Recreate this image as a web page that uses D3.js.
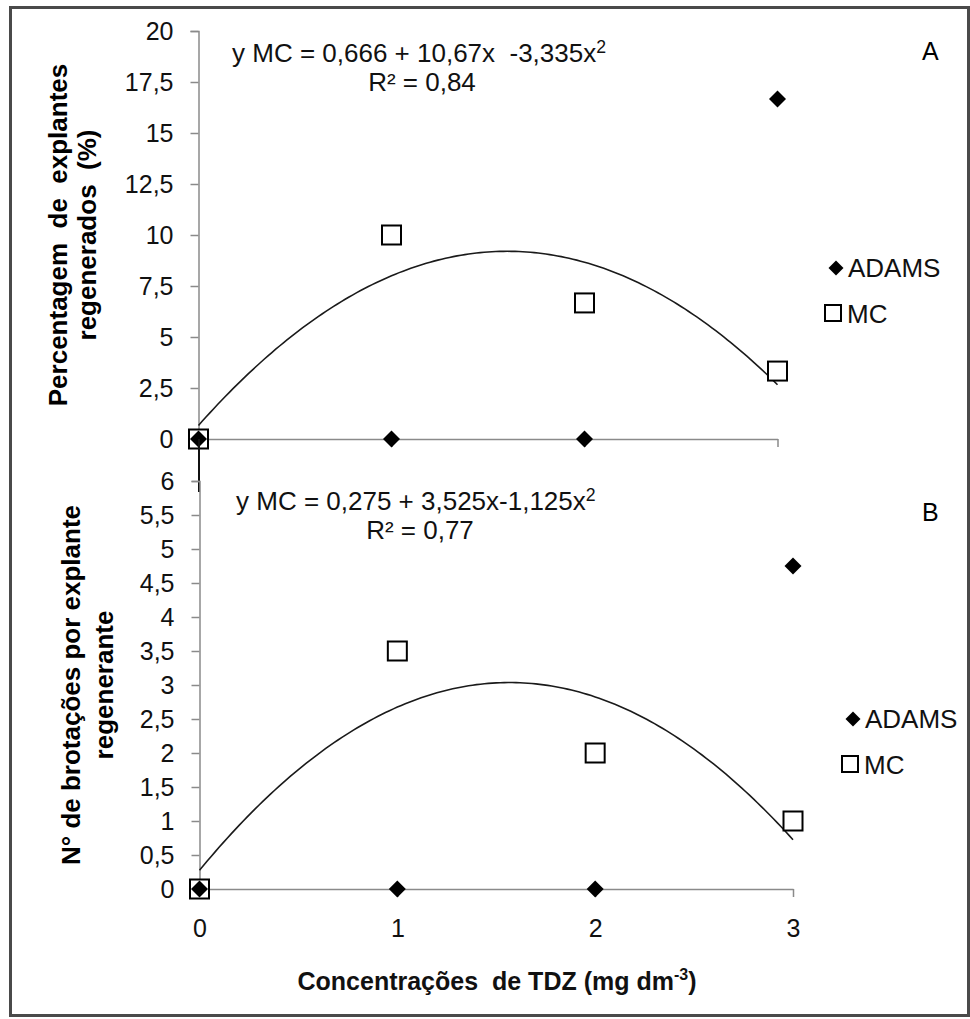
<!DOCTYPE html>
<html><head><meta charset="utf-8">
<script src="https://cdn.jsdelivr.net/npm/d3@7"></script>
<style>
html,body{margin:0;padding:0;background:#fff;}
svg{display:block;font-family:"Liberation Sans",Arial,sans-serif;}
text{white-space:pre;}
</style></head>
<body>
<svg id="chart" width="970" height="1019"></svg>
<script>
// ---- data ----
const concentrations = [0, 1, 2, 3];
const adamsPct = [0, 0, 0, 16.67];
const mcPct = [0, 10, 6.67, 3.33];
const adamsShoots = [0, 0, 0, 4.75];
const mcShoots = [0, 3.5, 2, 1];
const fitPctCoef = [0.666, 10.67, -3.335];
const fitShootCoef = [0.275, 3.525, -1.125];
const ticksPct = [0, 2.5, 5, 7.5, 10, 12.5, 15, 17.5, 20];
const ticksShoots = [0, 0.5, 1, 1.5, 2, 2.5, 3, 3.5, 4, 4.5, 5, 5.5, 6];
const xTicks = [0, 1, 2, 3];
const seriesNames = ["ADAMS", "MC"];

const svg = d3.select("#chart");
const fmt = v => String(v).replace(".", ",");
const axisColor = "#8a8a8a";

// outer frame
svg.append("rect").attr("x", 10.5).attr("y", 7.5).attr("width", 958).attr("height", 1008)
  .attr("fill", "none").attr("stroke", "#4a4a4a").attr("stroke-width", 3);

function panel(cfg) {
  const x = d3.scaleLinear().domain([0, 3]).range(cfg.xr);
  const y = d3.scaleLinear().domain(cfg.yd).range(cfg.yr);
  const g = svg.append("g");
  // y axis
  const ya = d3.axisLeft(y).tickValues(cfg.yticks).tickFormat(fmt).tickSize(8).tickPadding(17);
  const yg = g.append("g").attr("transform", `translate(${cfg.xr[0]},0)`).call(ya);
  yg.select(".domain").attr("stroke", axisColor).attr("stroke-width", 1.5);
  yg.selectAll(".tick line").attr("stroke", axisColor).attr("stroke-width", 1.5);
  yg.selectAll(".tick text").attr("font-size", 25).attr("fill", "#111")
    .attr("font-family", "Liberation Sans, Arial, sans-serif");
  // x axis
  const xa = d3.axisBottom(x).tickValues(xTicks).tickSize(8).tickSizeOuter(0)
    .tickFormat(cfg.xlabels ? d => d : () => "").tickPadding(22);
  const xg = g.append("g").attr("transform", `translate(0,${cfg.yr[0]})`).call(xa);
  xg.select(".domain").attr("stroke", axisColor).attr("stroke-width", 1.5);
  xg.selectAll(".tick line").attr("stroke", axisColor).attr("stroke-width", 1.5)
    .attr("display", d => d === 0 ? "none" : null);
  xg.selectAll(".tick text").attr("font-size", 25).attr("fill", "#111")
    .attr("font-family", "Liberation Sans, Arial, sans-serif");

  // fit curve
  const pts = d3.range(0, 3.0001, 0.02).map(v => [v, cfg.coef[0] + cfg.coef[1] * v + cfg.coef[2] * v * v]);
  g.append("path").datum(pts)
    .attr("d", d3.line().x(d => x(d[0])).y(d => y(d[1])))
    .attr("fill", "none").attr("stroke", "#1a1a1a").attr("stroke-width", 1.6);

  // MC squares
  const s = 19;
  g.selectAll(".mc").data(concentrations.map((c, i) => [c, cfg.mc[i]])).join("rect")
    .attr("x", d => x(d[0]) - s / 2).attr("y", d => y(d[1]) - s / 2)
    .attr("width", s).attr("height", s)
    .attr("fill", "#fff").attr("stroke", "#000").attr("stroke-width", 2);
  // ADAMS diamonds
  const diamond = r => `M0,${-r}L${r},0L0,${r}L${-r},0Z`;
  g.selectAll(".ad").data(concentrations.map((c, i) => [c, cfg.adams[i]])).join("path")
    .attr("d", diamond(8.5))
    .attr("transform", d => `translate(${x(d[0])},${y(d[1])})`)
    .attr("fill", "#000");

  // equation
  const eq = g.append("text").attr("x", cfg.eqX).attr("y", cfg.eqY)
    .attr("font-size", cfg.eqFs).attr("fill", "#111");
  eq.append("tspan").text(cfg.eq);
  eq.append("tspan").text("2").attr("font-size", cfg.eqFs * 0.68).attr("dy", -9);
  g.append("text").attr("x", cfg.r2X).attr("y", cfg.eqY + 29).attr("text-anchor", "middle")
    .attr("font-size", cfg.eqFs).attr("fill", "#111").text(cfg.r2);
  // panel letter
  g.append("text").attr("x", 922).attr("y", cfg.letterY).attr("font-size", 25)
    .attr("fill", "#000").text(cfg.letter);

  // legend
  const lg = g.append("g");
  lg.append("path").attr("d", diamond(7.5))
    .attr("transform", `translate(${cfg.legX},${cfg.legY})`).attr("fill", "#000");
  lg.append("text").attr("x", cfg.legX + 12).attr("y", cfg.legY + 9)
    .attr("font-size", 26).attr("fill", "#111").text(seriesNames[0]);
  lg.append("rect").attr("x", cfg.legX - 3 - 8).attr("y", cfg.legY + 45 - 8)
    .attr("width", 16).attr("height", 16).attr("fill", "#fff").attr("stroke", "#000").attr("stroke-width", 2);
  lg.append("text").attr("x", cfg.legX + 11).attr("y", cfg.legY + 55)
    .attr("font-size", 26).attr("fill", "#111").text(seriesNames[1]);

  // y title (two lines)
  const t = g.append("text").attr("font-weight", "bold").attr("font-size", 26)
    .attr("text-anchor", "middle").attr("fill", "#000")
    .attr("transform", `translate(${cfg.titleX},${cfg.titleY}) rotate(-90)`);
  t.append("tspan").attr("x", 0).attr("y", 0).text(cfg.title[0]);
  t.append("tspan").attr("x", 0).attr("y", cfg.titleGap).text(cfg.title[1]);
  return { x, y };
}

panel({
  xr: [198.5, 777.5], yd: [0, 20], yr: [439, 31], yticks: ticksPct,
  mc: mcPct, adams: adamsPct, coef: fitPctCoef, xlabels: false,
  eq: "y MC = 0,666 + 10,67x  -3,335x", eqX: 232, eqY: 62, eqFs: 26, r2: "R² = 0,84", r2X: 422,
  letter: "A", letterY: 60,
  legX: 836, legY: 268,
  title: ["Percentagem  de  explantes", "regenerados  (%)"], titleX: 67, titleY: 235, titleGap: 29
});

// connector line below panel A origin
svg.append("line").attr("x1", 199).attr("x2", 199).attr("y1", 439).attr("y2", 492)
  .attr("stroke", "#111").attr("stroke-width", 2);

panel({
  xr: [199.5, 793], yd: [0, 6], yr: [889, 481], yticks: ticksShoots,
  mc: mcShoots, adams: adamsShoots, coef: fitShootCoef, xlabels: true,
  eq: "y MC = 0,275 + 3,525x-1,125x", eqX: 236, eqY: 510, eqFs: 26, r2: "R² = 0,77", r2X: 420,
  letter: "B", letterY: 521,
  legX: 853, legY: 719,
  title: ["N° de brotações por explante", "regenerante"], titleX: 80, titleY: 685, titleGap: 33
});

// x title
const xt = svg.append("text").attr("x", 497).attr("y", 990).attr("text-anchor", "middle")
  .attr("font-size", 25).attr("font-weight", "bold").attr("fill", "#111");
xt.append("tspan").text("Concentrações  de TDZ (mg dm");
xt.append("tspan").text("-3").attr("font-size", 16).attr("dy", -10);
xt.append("tspan").text(")").attr("dy", 10);
</script>
</body></html>
